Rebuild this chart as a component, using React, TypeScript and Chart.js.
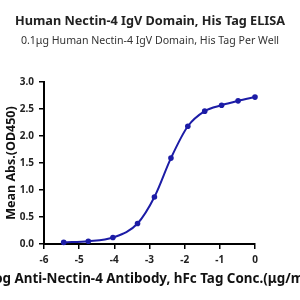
import React, { useEffect, useRef } from "react";
import { Chart, registerables } from "chart.js";

Chart.register(...registerables);

const logConc = [-5.44, -4.74, -4.04, -3.34, -2.86, -2.39, -1.91, -1.43, -0.95, -0.48, 0];
const meanAbs = [0.03, 0.05, 0.12, 0.38, 0.87, 1.59, 2.18, 2.46, 2.57, 2.65, 2.72];
const titleText = "Human Nectin-4 IgV Domain, His Tag ELISA";
const subtitleText = "0.1μg Human Nectin-4 IgV Domain, His Tag Per Well";
const xTitle = "Log Anti-Nectin-4 Antibody, hFc Tag Conc.(μg/ml)";
const yTitle = "Mean Abs.(OD450)";

const FONT = "'Noto Sans', 'Open Sans', sans-serif";
const BLUE = "#1c1ca6";

const xTitlePlugin = {
  id: "xTitleFree",
  afterDraw(chart: any) {
    const { ctx, chartArea } = chart;
    ctx.save();
    ctx.font = `bold 13.4px ${FONT}`;
    ctx.fillStyle = "#111";
    ctx.textAlign = "center";
    ctx.textBaseline = "middle";
    ctx.fillText(xTitle, (chartArea.left + chartArea.right) / 2, chart.height - 21);
    ctx.restore();
  },
};

export default function App() {
  const ref = useRef<HTMLCanvasElement>(null);
  useEffect(() => {
    const chart = new Chart(ref.current!, {
      type: "scatter",
      data: {
        datasets: [
          {
            data: logConc.map((x, i) => ({ x, y: meanAbs[i] })),
            showLine: true,
            borderColor: BLUE,
            backgroundColor: BLUE,
            borderWidth: 2,
            pointRadius: 2.8,
            pointBackgroundColor: BLUE,
            pointBorderWidth: 0,
            cubicInterpolationMode: "monotone",
            clip: false,
          },
        ],
      },
      plugins: [xTitlePlugin],
      options: {
        animation: false,
        responsive: false,
        layout: { padding: 0 },
        plugins: {
          legend: { display: false },
          tooltip: { enabled: false },
          title: {
            display: true,
            text: titleText,
            color: "#222",
            font: { family: FONT, size: 12.7, weight: "bold" },
            padding: { top: 14, bottom: 2 },
          },
          subtitle: {
            display: true,
            text: subtitleText,
            color: "#333",
            font: { family: FONT, size: 10.6, weight: "normal" },
            padding: { top: 3, bottom: 35 },
          },
        },
        scales: {
          x: {
            type: "linear",
            min: -6,
            max: 0,
            afterFit: (s: any) => {
              s.height = 56;
            },
            ticks: {
              stepSize: 1,
              color: "#222",
              font: { family: FONT, size: 10, weight: "bold" },
              padding: 5,
              maxRotation: 0,
            },
            grid: { drawOnChartArea: false, drawTicks: true, tickLength: 5, color: "#000", lineWidth: 1.5 },
            border: { display: true, color: "#000", width: 2 },
            title: { display: false },
          },
          y: {
            type: "linear",
            min: 0,
            max: 3,
            afterFit: (s: any) => {
              s.width = 44;
            },
            ticks: {
              stepSize: 0.5,
              color: "#222",
              font: { family: FONT, size: 10, weight: "bold" },
              padding: 5,
              callback: (v: any) => Number(v).toFixed(1),
            },
            grid: { drawOnChartArea: false, drawTicks: true, tickLength: 5, color: "#000", lineWidth: 1.5 },
            border: { display: true, color: "#000", width: 2 },
            title: {
              display: true,
              text: yTitle,
              color: "#111",
              font: { family: FONT, size: 12.5, weight: "bold" },
              padding: { top: 4, bottom: 0 },
            },
          },
          yRight: {
            type: "linear",
            position: "right",
            display: true,
            afterFit: (s: any) => {
              s.width = 45;
            },
            ticks: { display: false },
            grid: { display: false },
            border: { display: false },
          },
        },
      },
    });
    return () => chart.destroy();
  }, []);
  return (
    <div style={{ position: "fixed", left: 0, top: 0, width: 300, height: 300, background: "#fff" }}>
      <canvas ref={ref} width={300} height={300} />
    </div>
  );
}
